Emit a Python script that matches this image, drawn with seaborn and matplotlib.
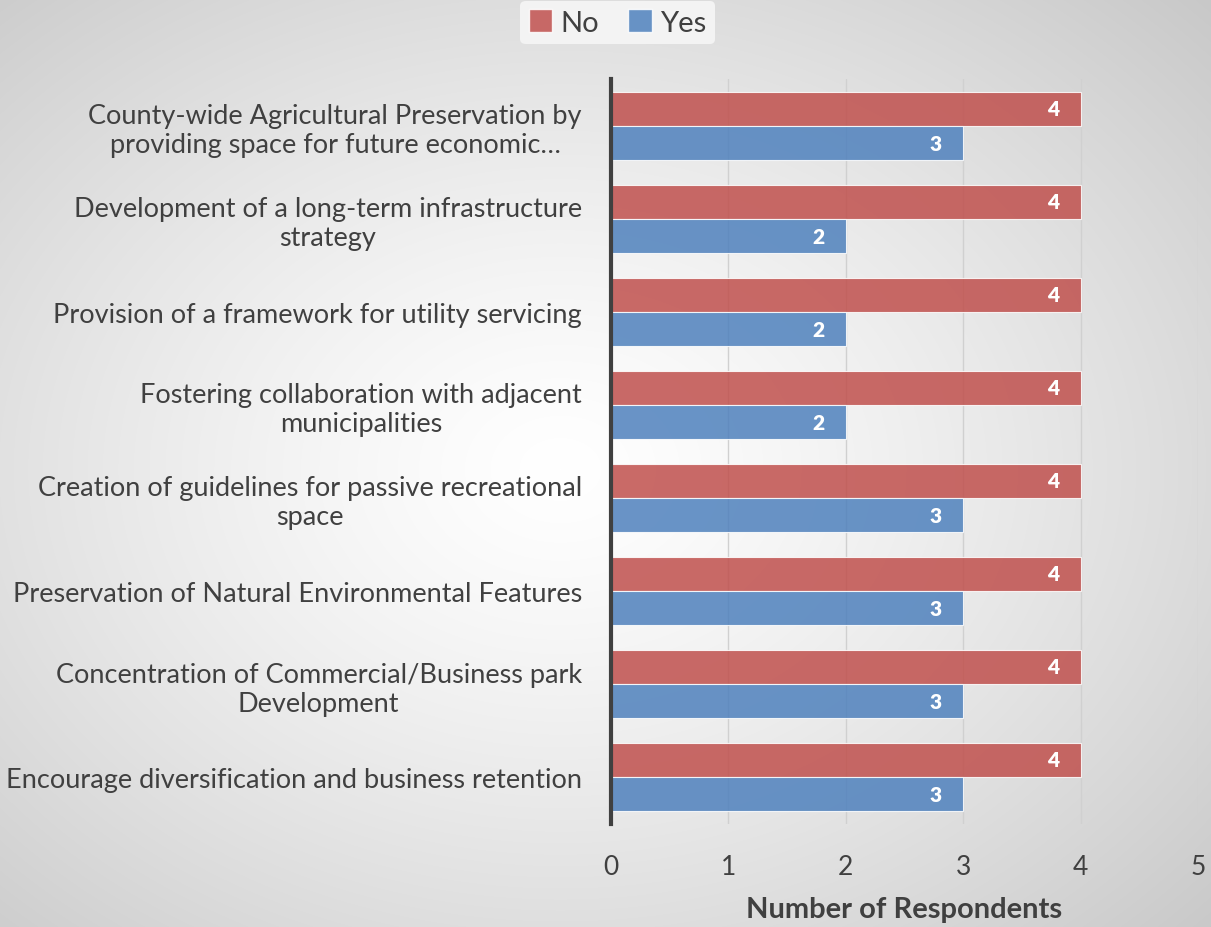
import numpy as np
import pandas as pd
import matplotlib
matplotlib.use("Agg")
import matplotlib.pyplot as plt
import seaborn as sns
from matplotlib.patches import Patch

categories = [
    "County-wide Agricultural Preservation by\nproviding space for future economic…",
    "Development of a long-term infrastructure\nstrategy",
    "Provision of a framework for utility servicing",
    "Fostering collaboration with adjacent\nmunicipalities",
    "Creation of guidelines for passive recreational\nspace",
    "Preservation of Natural Environmental Features",
    "Concentration of Commercial/Business park\nDevelopment",
    "Encourage diversification and business retention",
]
no_values = [4, 4, 4, 4, 4, 4, 4, 4]
yes_values = [3, 2, 2, 2, 3, 3, 3, 3]
series = ["No", "Yes"]
colors = {"No": "#C0504D", "Yes": "#4F81BD"}
x_ticks = [0, 1, 2, 3, 4, 5]
x_label = "Number of Respondents"

df = pd.DataFrame({
    "category": categories * 2,
    "value": no_values + yes_values,
    "series": ["No"] * len(categories) + ["Yes"] * len(categories),
})

sns.set_theme(style="white")
plt.rcParams["font.family"] = ["Lato", "DejaVu Sans"]
text_col = "#404040"

fig = plt.figure(figsize=(12.11, 9.28), dpi=100)

# radial gradient background
bg = fig.add_axes([0, 0, 1, 1], zorder=-10)
yy, xx = np.mgrid[0:928, 0:1211]
cx, cy = 560, 470
r = np.sqrt(((xx - cx) / 1211.0) ** 2 + ((yy - cy) / 928.0) ** 2)
val = 1.0 - 0.22 * np.clip(r / 0.75, 0, 1) ** 1.3
bg.imshow(np.dstack([val, val, val]), aspect="auto", extent=[0, 1, 0, 1], origin="upper")
bg.axis("off")

ax = fig.add_axes([0.5045, 0.1115, 0.4848, 0.8018])
ax.patch.set_alpha(0)
sns.barplot(data=df, y="category", x="value", hue="series", orient="h",
            palette=colors, hue_order=series, width=0.74, ax=ax,
            alpha=0.85, edgecolor="white", linewidth=0.8, legend=False, saturation=1)

for cont in ax.containers:
    ax.bar_label(cont, labels=[f"{int(v)}" for v in cont.datavalues],
                 padding=-24, color="white", fontweight="heavy", fontsize=15)

ax.set_xlim(0, 5)
ax.set_xticks(x_ticks)
ax.set_xticklabels([str(t) for t in x_ticks], fontsize=19, color=text_col)
ax.tick_params(axis="x", length=0, pad=22)
ax.tick_params(axis="y", length=0, pad=21, labelsize=19.5, labelcolor=text_col)
for lab in ax.get_yticklabels():
    lab.set_multialignment("center")
ax.set_ylabel("")
ax.set_xlabel(x_label, fontsize=21, fontweight="bold", color=text_col, labelpad=12)
ax.xaxis.grid(True, color="#d0d0d0", linewidth=1)
ax.set_axisbelow(True)
for s in ["top", "right", "bottom"]:
    ax.spines[s].set_visible(False)
ax.spines["left"].set_color("#404040")
ax.spines["left"].set_linewidth(3)

handles = [Patch(facecolor=colors[s], alpha=0.85, edgecolor="white", label=s) for s in series]
leg = fig.legend(handles=handles, loc="upper center", bbox_to_anchor=(0.51, 1.014), ncol=2,
                 frameon=True, fontsize=21, handlelength=0.8, handleheight=0.8,
                 handletextpad=0.3, columnspacing=1.0, labelcolor=text_col, borderpad=0.3)
leg.get_frame().set_facecolor("#f3f3f3")
leg.get_frame().set_edgecolor("none")
leg.get_frame().set_alpha(1)

fig.savefig("out.png", dpi=100)
